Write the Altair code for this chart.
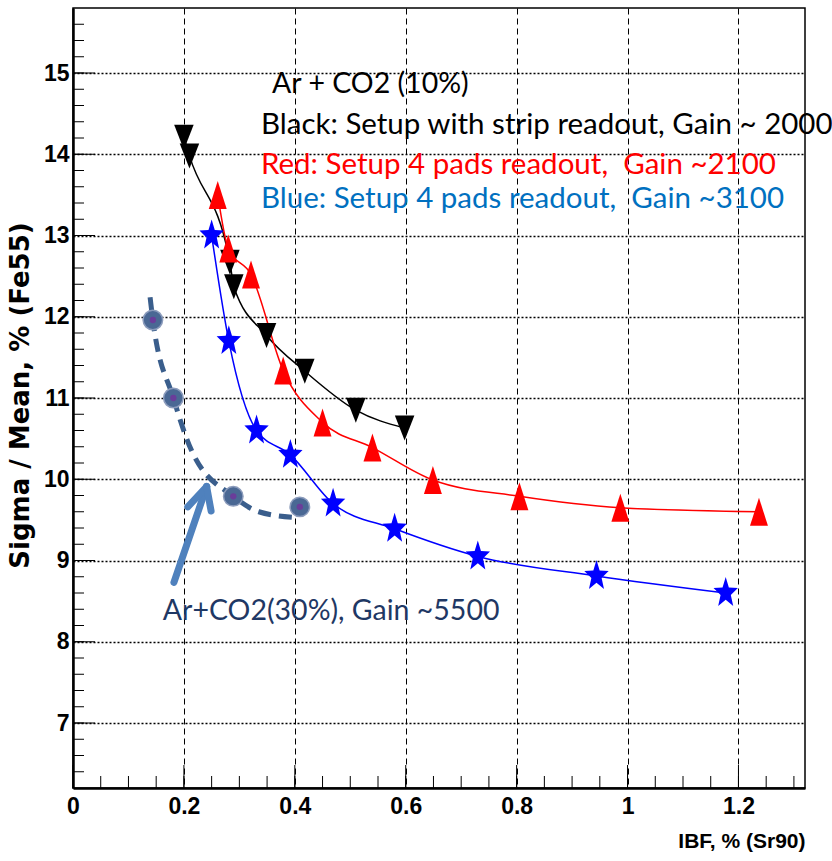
import altair as alt
import pandas as pd
import numpy as np

# ---------------- data ----------------
black_x = [0.200, 0.210, 0.283, 0.290, 0.349, 0.418, 0.510, 0.598]
black_y = [14.21, 13.98, 12.67, 12.37, 11.77, 11.33, 10.85, 10.63]

red_x = [0.261, 0.280, 0.321, 0.379, 0.450, 0.540, 0.649, 0.805, 0.987, 1.237]
red_y = [13.50, 12.84, 12.52, 11.34, 10.70, 10.39, 9.99, 9.79, 9.65, 9.60]

blue_x = [0.250, 0.281, 0.331, 0.392, 0.469, 0.580, 0.730, 0.944, 1.177]
blue_y = [13.00, 11.70, 10.60, 10.30, 9.70, 9.39, 9.05, 8.81, 8.60]

co2_x = [0.144, 0.181, 0.289, 0.409]
co2_y = [11.96, 11.00, 9.79, 9.66]

# hand-drawn dashed guide curve through the Ar+CO2(30%) points
curve_x = [0.139, 0.144, 0.181, 0.214, 0.289, 0.335, 0.400]
curve_y = [12.24, 11.96, 11.00, 10.35, 9.79, 9.60, 9.53]

# arrow (tail -> head, and the two arms of the head)
arrow_x = [0.182, 0.241, 0.241]
arrow_y = [8.73, 9.91, 9.91]
arrow_x2 = [0.241, 0.207, 0.249]
arrow_y2 = [9.91, 9.66, 9.61]

notes_text = ["Ar + CO2 (10%)",
              "Black: Setup with strip readout, Gain ~ 2000",
              "Red: Setup 4 pads readout, \u00a0Gain ~2100",
              "Blue: Setup 4 pads readout, \u00a0Gain ~3100",
              "Ar+CO2(30%), Gain ~5500"]
notes_x = [0.359, 0.339, 0.339, 0.339, 0.162]
notes_y = [14.75, 14.25, 13.76, 13.34, 8.27]
notes_color = ["#000000", "#000000", "#ff0000", "#0070c0", "#1f3864"]
notes_size = [28.5, 29.5, 29.5, 29.5, 28.5]

x_ticks = [0, 0.2, 0.4, 0.6, 0.8, 1.0, 1.2]
y_ticks = [7, 8, 9, 10, 11, 12, 13, 14, 15]
x_minor = [round(v, 2) for v in np.arange(0.05, 1.32, 0.05)]
y_minor = [round(v, 1) for v in np.arange(6.4, 15.8, 0.2)]

# ---------------- layout ----------------
W, H = 732, 780
XDOM = [0, 1.32]
YDOM = [6.2, 15.8]
xs = alt.Scale(domain=XDOM, nice=False, zero=False)
ys = alt.Scale(domain=YDOM, nice=False, zero=False)

NOTE_FONT = "Lato"
AXIS_FONT = "Liberation Sans, Arial, sans-serif"

xaxis = alt.Axis(
    values=x_ticks, format="~g", grid=True, gridDash=[6, 4], gridColor="black",
    gridWidth=1, gridOpacity=1, ticks=False, tickSize=0, domain=True, domainColor="black",
    domainWidth=2.5, labelFont=AXIS_FONT, labelFontSize=23, labelFontWeight="bold",
    labelColor="black", labelPadding=7, labelFlush=False, labelOverlap=False,
    title="IBF, % (Sr90)", titleFont=AXIS_FONT, titleFontSize=21, titleFontWeight="bold",
    titleColor="black", titleX=W, titleY=59, titleAlign="right",
    titleBaseline="alphabetic", titleAnchor="end")
yaxis = alt.Axis(
    values=y_ticks, format="d", grid=True, gridDash=[2, 2], gridColor="black",
    gridWidth=1.5, gridOpacity=1, ticks=False, tickSize=0, domain=True, domainColor="black",
    domainWidth=2.5, labelFont=AXIS_FONT, labelFontSize=23, labelFontWeight="bold",
    labelColor="black", labelPadding=4, labelFlush=False, labelOverlap=False,
    title="Sigma / Mean, % (Fe55)", titleFont="DejaVu Sans", titleFontSize=26,
    titleFontWeight="bold", titleColor="black", titleX=-53, titleY=H / 2 - 3,
    titleAngle=270, titleAlign="center", titleBaseline="middle")


def sx(f="x"):
    return alt.X(f"{f}:Q", scale=xs, axis=xaxis)


def sy(f="y"):
    return alt.Y(f"{f}:Q", scale=ys, axis=yaxis)


# symbol shapes (unit box -1..1)
tri_up = "M0,-1L0.64,1L-0.64,1Z"
tri_down = "M-0.78,-1L0.78,-1L0,1Z"
pts = []
for k in range(10):
    a = -np.pi / 2 + k * np.pi / 5
    r = 1.0 if k % 2 == 0 else 0.42
    pts.append(f"{0.8 * r * np.cos(a):.3f},{r * np.sin(a):.3f}")
star = "M" + "L".join(pts) + "Z"

black = pd.DataFrame({"x": black_x, "y": black_y})
red = pd.DataFrame({"x": red_x, "y": red_y})
blue = pd.DataFrame({"x": blue_x, "y": blue_y})
co2 = pd.DataFrame({"x": co2_x, "y": co2_y})
curve = pd.DataFrame({"x": curve_x, "y": curve_y})
arrow = pd.DataFrame({"x": arrow_x, "y": arrow_y, "x2": arrow_x2, "y2": arrow_y2})
notes = pd.DataFrame({"x": notes_x, "y": notes_y, "t": notes_text, "c": notes_color,
                      "s": notes_size})

ytm = alt.Chart(pd.DataFrame({"y": y_ticks})).mark_rule(color="black", strokeWidth=1).encode(
    y=sy(), x=alt.value(0), x2=alt.value(22))
ytn = alt.Chart(pd.DataFrame({"y": y_minor})).mark_rule(color="black", strokeWidth=1).encode(
    y=sy(), x=alt.value(0), x2=alt.value(11))
xtm = alt.Chart(pd.DataFrame({"x": x_ticks})).mark_rule(color="black", strokeWidth=1).encode(
    x=sx(), y=alt.value(H), y2=alt.value(H - 23))
xtn = alt.Chart(pd.DataFrame({"x": x_minor})).mark_rule(color="black", strokeWidth=1).encode(
    x=sx(), y=alt.value(H), y2=alt.value(H - 12))


def series(df, color, shape, size):
    ln = alt.Chart(df).mark_line(interpolate="monotone", color=color, strokeWidth=1.5).encode(
        x=sx(), y=sy())
    pt = alt.Chart(df).mark_point(shape=shape, filled=True, size=size, color=color,
                                  opacity=1, strokeWidth=0).encode(x=sx(), y=sy())
    return ln, pt


bl, bp = series(black, "#000000", tri_down, 625)
rl, rp = series(red, "#ff0000", tri_up, 784)
ul, up = series(blue, "#0000ff", star, 1024)

dash = alt.Chart(curve).mark_line(interpolate="monotone", color="#3a5e8c", strokeWidth=5,
                                  strokeDash=[13, 8]).encode(x=sx(), y=sy())
c_out = alt.Chart(co2).mark_circle(size=380, color="#4a6894", opacity=1, stroke="#8c9cbc",
                                   strokeWidth=1.5).encode(x=sx(), y=sy())
c_in = alt.Chart(co2).mark_circle(size=40, color="#6a3d9a", opacity=1).encode(x=sx(), y=sy())

arr = alt.Chart(arrow).mark_rule(color="#4f81bd", strokeWidth=7, strokeCap="round").encode(
    x=sx(), y=sy(), x2="x2:Q", y2="y2:Q")

txt = alt.Chart(notes).mark_text(align="left", baseline="alphabetic", font=NOTE_FONT).encode(
    x=sx(), y=sy(), text="t:N", color=alt.Color("c:N", scale=None),
    size=alt.Size("s:Q", scale=None))

chart = alt.layer(ytm, ytn, xtm, xtn, dash, c_out, c_in, arr,
                  bl, rl, ul, bp, rp, up, txt).properties(
    width=W, height=H,
    padding={"left": 73, "top": 8, "right": 27, "bottom": 73},
    autosize=alt.AutoSizeParams(type="none"),
    background="white",
).configure_view(stroke="black", strokeWidth=1.5)

chart.save("out.html", embed_options={"renderer": "svg", "actions": False})
